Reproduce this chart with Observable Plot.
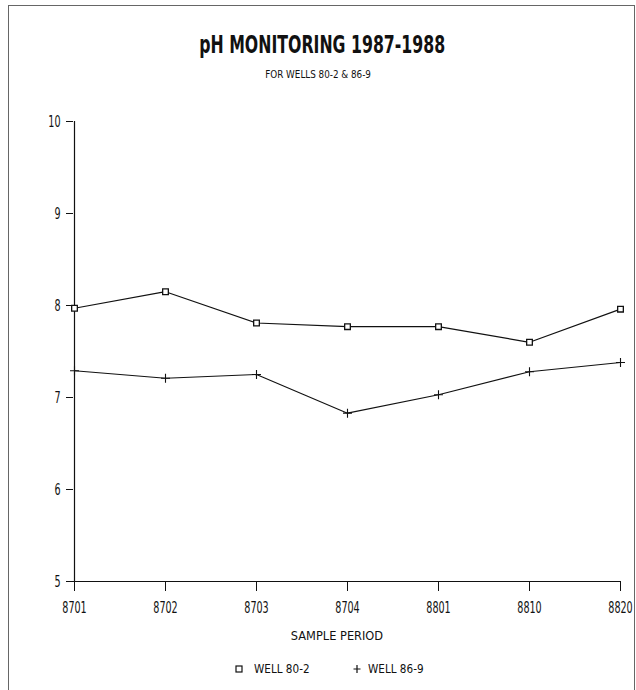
<!DOCTYPE html>
<html>
<head>
<meta charset="utf-8">
<script src="https://cdn.jsdelivr.net/npm/d3@7"></script>
<script src="https://cdn.jsdelivr.net/npm/@observablehq/plot@0.6"></script>
<style>
  html, body { margin: 0; padding: 0; background: #fff; }
  body { width: 636px; height: 690px; position: relative; overflow: hidden;
         font-family: "DejaVu Sans", sans-serif; color: #111; }
  #frame { position: absolute; left: 8px; top: 5px; width: 627px; height: 700px; border: 1px solid #666; box-sizing: border-box; }
  .c { position: absolute; left: 0; width: 636px; text-align: center; white-space: nowrap; line-height: 1.2; }
  .c span, .lt { display: inline-block; }
  #title { top: 30px; font-size: 25px; font-weight: bold; left: 4px; }
  #title span { transform: scaleX(0.63); }
  #subtitle { top: 68px; font-size: 11px; }
  #subtitle span { transform: scaleX(0.8); }
  #chart { position: absolute; left: 0; top: 100px; }
  #xlabel { top: 629px; font-size: 12px; left: 337px; width: 0; }
  #xlabel span { transform: translateX(-50%) scaleX(0.95); }
  .lt { position: absolute; top: 662px; font-size: 12px; line-height: 1.2; transform-origin: left center; transform: scaleX(0.87); white-space: nowrap; }
  .ls { position: absolute; }
</style>
</head>
<body>
<div id="frame"></div>
<div id="title" class="c"><span>pH MONITORING 1987-1988</span></div>
<div id="subtitle" class="c"><span>FOR WELLS 80-2 &amp; 86-9</span></div>
<div id="chart"></div>
<div id="xlabel" class="c"><span>SAMPLE PERIOD</span></div>
<svg class="ls" style="left:235px;top:665px" width="8" height="8"><rect x="1" y="1" width="6" height="6" fill="none" stroke="#111" stroke-width="1.2"/></svg>
<div class="lt" style="left:254px">WELL 80-2</div>
<svg class="ls" style="left:353px;top:665px" width="8" height="8"><path d="M4 0V8M0.5 4H7.5" stroke="#111" stroke-width="1.2"/></svg>
<div class="lt" style="left:368px">WELL 86-9</div>
<script>
const periods = ["8701", "8702", "8703", "8704", "8801", "8810", "8820"];
const well80_2 = [7.97, 8.15, 7.81, 7.77, 7.77, 7.60, 7.96];
const well86_9 = [7.29, 7.21, 7.25, 6.83, 7.03, 7.28, 7.38];
const yTicks = [5, 6, 7, 8, 9, 10];

const d80 = periods.map((p, i) => ({period: p, ph: well80_2[i]}));
const d86 = periods.map((p, i) => ({period: p, ph: well86_9[i]}));

const chart = Plot.plot({
  width: 636,
  height: 540,
  marginTop: 21,
  marginBottom: 59,
  marginLeft: 73,
  marginRight: 16,
  style: {fontFamily: '"DejaVu Sans", sans-serif', fontSize: "16px", color: "#111", background: "transparent", overflow: "visible"},
  x: {type: "point", domain: periods, padding: 0},
  y: {domain: [5, 10]},
  marks: [
    Plot.axisY({ticks: yTicks, tickFormat: d => String(d), tickSize: 7, tickPadding: 6, label: null, fontSize: 16}),
    Plot.axisX({tickSize: 10, tickPadding: 10, label: null, fontSize: 16}),
    Plot.ruleY([5], {stroke: "#111", strokeWidth: 1.2}),
    Plot.ruleX([periods[0]], {stroke: "#111", strokeWidth: 1.2}),
    Plot.line(d80, {x: "period", y: "ph", stroke: "#111", strokeWidth: 1.2}),
    Plot.line(d86, {x: "period", y: "ph", stroke: "#111", strokeWidth: 1.1}),
    Plot.dot(d80, {x: "period", y: "ph", symbol: "square", r: 3.2, fill: "white", stroke: "#111", strokeWidth: 1.3}),
    Plot.dot(d86, {x: "period", y: "ph", symbol: "plus", r: 3, stroke: "#111", strokeWidth: 1.1})
  ]
});
document.getElementById("chart").appendChild(chart);
chart.querySelectorAll("text").forEach(t => {
  const L = t.getComputedTextLength();
  if (L > 0) {
    t.setAttribute("textLength", (L * 0.6).toFixed(2));
    t.setAttribute("lengthAdjust", "spacingAndGlyphs");
  }
});
</script>
</body>
</html>
